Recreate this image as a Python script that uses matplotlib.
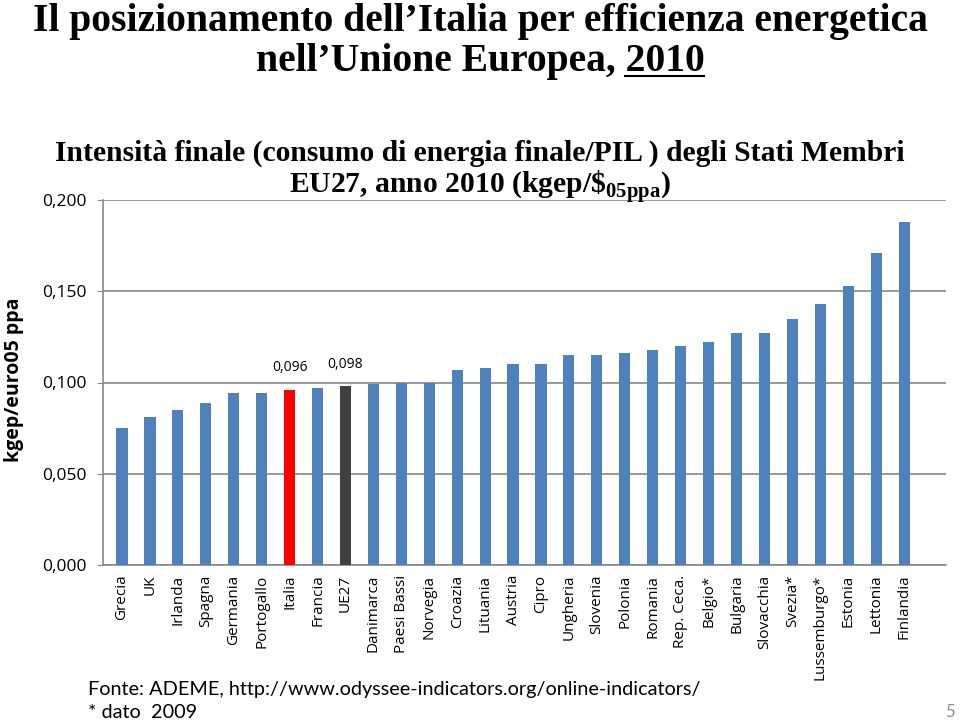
import numpy as np
import matplotlib
matplotlib.use("Agg")
import matplotlib.pyplot as plt
from matplotlib.lines import Line2D

paesi = ["Grecia", "UK", "Irlanda", "Spagna", "Germania", "Portogallo", "Italia",
         "Francia", "UE27", "Danimarca", "Paesi Bassi", "Norvegia", "Croazia",
         "Lituania", "Austria", "Cipro", "Ungheria", "Slovenia", "Polonia",
         "Romania", "Rep. Ceca.", "Belgio*", "Bulgaria", "Slovacchia", "Svezia*",
         "Lussemburgo*", "Estonia", "Lettonia", "Finlandia"]
intensita = [0.075, 0.081, 0.085, 0.089, 0.094, 0.094, 0.096,
             0.097, 0.098, 0.099, 0.100, 0.100, 0.107,
             0.108, 0.110, 0.110, 0.115, 0.115, 0.116,
             0.118, 0.120, 0.122, 0.127, 0.127, 0.135,
             0.143, 0.153, 0.171, 0.188]
yticks = [0.0, 0.05, 0.10, 0.15, 0.20]
etichette = {"Italia": "0,096", "UE27": "0,098"}

plt.rcParams['mathtext.fontset'] = 'custom'
plt.rcParams['mathtext.rm'] = 'Liberation Serif:bold'

fig = plt.figure(figsize=(9.6, 7.24), dpi=100)
ax = fig.add_axes([103/960, 1-565/724, (946-103)/960, (565-200)/724])

colori = []
for p in paesi:
    if p == "Italia":
        colori.append("#ff0000")
    elif p == "UE27":
        colori.append("#404040")
    else:
        colori.append("#4f81bd")

x = np.arange(len(paesi))
ax.bar(x, intensita, width=0.4, color=colori, zorder=3)
for i, p in enumerate(paesi):
    if p in etichette:
        ax.text(x[i], intensita[i] + 0.008, etichette[p], ha='center', va='bottom',
                fontsize=10, family='Open Sans')

ax.set_ylim(0, 0.2)
ax.set_xlim(-0.68, 29.5)
ax.set_yticks(yticks)
ax.set_yticklabels([("%.3f" % v).replace(".", ",") for v in yticks],
                   fontsize=12.5, family='Open Sans')
ax.yaxis.grid(True, color='#868686', linewidth=1.2, zorder=0)
ax.set_xticks(x)
ax.set_xticklabels(paesi, rotation=90, fontsize=11, family='Open Sans')
ax.tick_params(axis='x', length=0, pad=7)
ax.tick_params(axis='y', length=4, color='#868686', pad=8)
for s in ['top', 'right']:
    ax.spines[s].set_visible(False)
for s in ['left', 'bottom']:
    ax.spines[s].set_color('#868686')
    ax.spines[s].set_linewidth(1.2)

fig.text(14/960, 1-380/724, "kgep/euro05 ppa", rotation=90, ha='center', va='center',
         fontsize=14, fontweight='bold', family='Open Sans')

fig.text(0.5, 1-22/724, "Il posizionamento dell’Italia per efficienza energetica",
         ha='center', va='center', fontsize=28.5, fontweight='bold', family='Liberation Serif')
t2 = fig.text(0.5, 1-61/724, "nell’Unione Europea, 2010",
              ha='center', va='center', fontsize=28.5, fontweight='bold', family='Liberation Serif')
fig.text(0.5, 1-153/724, "Intensità finale (consumo di energia finale/PIL ) degli Stati Membri",
         ha='center', va='center', fontsize=21.3, fontweight='bold', family='Liberation Serif')
fig.text(0.5, 1-187/724, r"EU27, anno 2010 (kgep/$\$_{\mathrm{05ppa}}$)",
         ha='center', va='center', fontsize=21.3, fontweight='bold', family='Liberation Serif')

# sottolineatura di "2010"
fig.canvas.draw()
r = fig.canvas.get_renderer()
bb = t2.get_window_extent(r)
tmp = fig.text(0, 0, "2010", fontsize=28.5, fontweight='bold', family='Liberation Serif')
w = tmp.get_window_extent(r).width
tmp.remove()
yl = (bb.y0 + 4) / fig.bbox.height
fig.add_artist(Line2D([(bb.x1 - w) / fig.bbox.width, bb.x1 / fig.bbox.width], [yl, yl],
                      color='black', linewidth=1.5))

fig.text(88/960, 1-690/724, "Fonte: ADEME, http://www.odyssee-indicators.org/online-indicators/",
         ha='left', va='center', fontsize=14.3, family='Lato')
fig.text(88/960, 1-712/724, "* dato  2009", ha='left', va='center', fontsize=14.3, family='Lato')
fig.text(950/960, 1-712/724, "5", ha='center', va='center', fontsize=12,
         color='#8c8c8c', family='Lato')

fig.savefig("out.png", dpi=100)
